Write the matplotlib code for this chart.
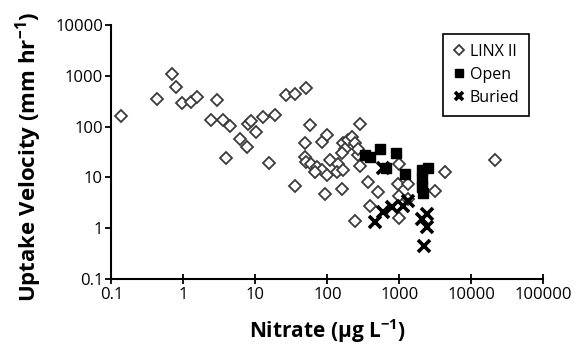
import matplotlib
matplotlib.use("Agg")
import matplotlib.pyplot as plt

plt.rcParams['font.family'] = ['Open Sans', 'DejaVu Sans']
plt.rcParams['mathtext.fontset'] = 'custom'
plt.rcParams['mathtext.rm'] = 'Open Sans'
plt.rcParams['mathtext.bf'] = 'Open Sans:bold'

# LINX II (diamonds)
linx_x = [0.135, 0.43, 0.7, 0.79, 0.96, 1.27, 1.54, 2.9, 2.43, 3.56, 4.4, 3.9,
          6.1, 7.6, 7.8, 8.8, 10.2, 12.6, 19, 15.5, 27, 35, 50, 35,
          57, 280, 49, 83, 98, 167, 196, 218, 174, 158, 49, 51, 59, 71, 83,
          98, 67, 108, 142, 134, 167, 240, 268, 280, 93, 158, 270,
          4300, 3100, 1000, 950, 1320, 1000, 1320, 1000, 370, 510, 390, 240,
          21000]
linx_y = [162, 347, 1070, 600, 290, 300, 390, 340, 135, 135, 105, 24,
          56, 40, 115, 128, 79, 155, 170, 19, 415, 440, 570, 6.8,
          107, 115, 47, 50, 68, 47, 54, 63, 37, 30, 25, 20, 18.6, 15.9, 13.8,
          11, 12.7, 22, 18.7, 12.7, 13.8, 47, 27.6, 17, 4.7, 6.0, 36,
          12.7, 5.5, 18.7, 7.5, 7.5, 4.4, 3.8, 1.6, 8.1, 5.1, 2.8, 1.4,
          22]

# Open (filled squares)
open_x = [330, 390, 536, 910, 660, 1200, 2050, 2520, 2050, 2050, 2100]
open_y = [28, 25, 37, 30, 15, 11.7, 14, 15, 9.5, 6.5, 5]

# Buried (x)
buried_x = [455, 600, 780, 1130, 1310, 600, 2400, 2050, 2400, 2200]
buried_y = [1.3, 2.05, 2.6, 2.8, 3.5, 15, 1.9, 1.5, 1.04, 0.45]

fig = plt.figure(figsize=(5.83, 3.44), dpi=100)
ax = fig.add_axes([0.191, 0.189, 0.741, 0.738])

ax.plot(linx_x, linx_y, 'D', ms=6, mfc='white', mec='#3a3a3a', mew=1.3,
        ls='none', label='LINX II')
ax.plot(open_x, open_y, 's', ms=7.5, mfc='black', mec='black',
        ls='none', label='Open')
ax.plot(buried_x, buried_y, 'x', ms=8, mec='black', mew=2.6,
        ls='none', label='Buried')

ax.set_xscale('log')
ax.set_yscale('log')
ax.set_xlim(0.1, 100000)
ax.set_ylim(0.1, 10000)
ax.set_xticks([0.1, 1, 10, 100, 1000, 10000, 100000])
ax.set_xticklabels(['0.1', '1', '10', '100', '1000', '10000', '100000'])
ax.set_yticks([0.1, 1, 10, 100, 1000, 10000])
ax.set_yticklabels(['0.1', '1', '10', '100', '1000', '10000'])
ax.minorticks_off()
ax.spines['top'].set_visible(False)
ax.spines['right'].set_visible(False)
ax.spines['left'].set_linewidth(1.5)
ax.spines['bottom'].set_linewidth(1.5)
ax.tick_params(axis='x', direction='inout', length=7, width=1.3,
               labelsize=12, pad=2)
ax.tick_params(axis='y', direction='out', length=4, width=1.3,
               labelsize=12, pad=2)

ax.set_xlabel(r'Nitrate (µg L$^{\mathbf{-1}}$)', fontsize=15, fontweight='bold')
ax.set_ylabel(r'Uptake Velocity (mm hr$^{\mathbf{-1}}$)', fontsize=16,
              fontweight='bold')
ax.xaxis.set_label_coords(0.5, -0.15)
ax.yaxis.set_label_coords(-0.155, 0.48)

leg = ax.legend(loc='upper right', bbox_to_anchor=(0.967, 0.965),
                borderaxespad=0, fancybox=False, edgecolor='black',
                fontsize=11.5, handlelength=0.8, handletextpad=0.3,
                borderpad=0.6, labelspacing=0.45, markerscale=0.8,
                framealpha=1)
leg.get_frame().set_linewidth(1.2)

fig.savefig('out.png', dpi=100)
